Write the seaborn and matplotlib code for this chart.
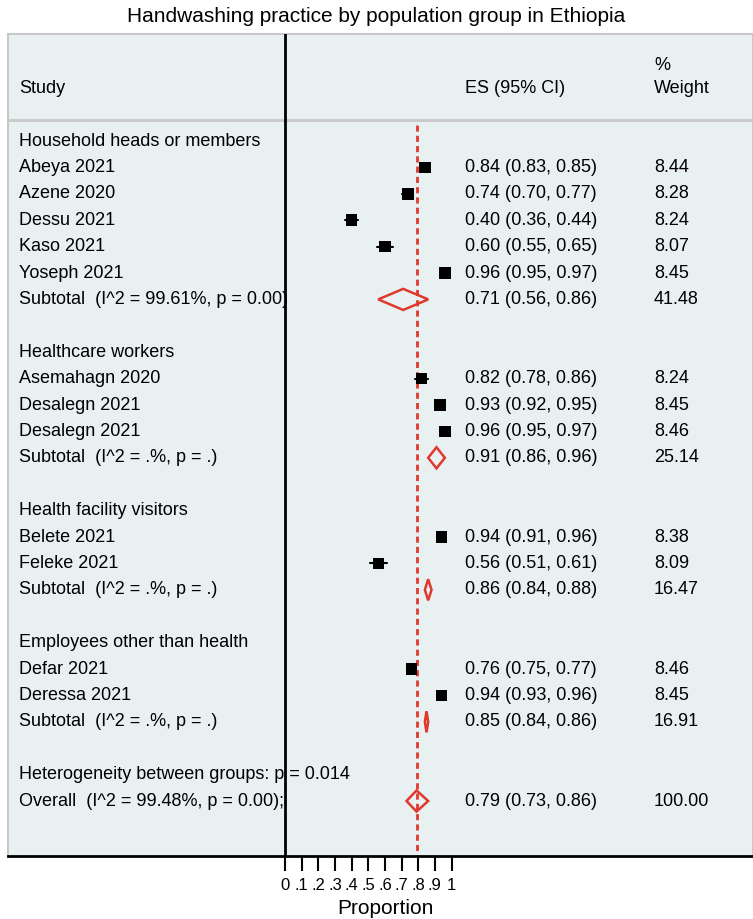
import numpy as np
import pandas as pd
import matplotlib.pyplot as plt
from matplotlib.patches import Polygon
import seaborn as sns

# Study rows: label, estimate, lower, upper, weight
studies = ["Abeya 2021", "Azene 2020", "Dessu 2021", "Kaso 2021", "Yoseph 2021",
           "Asemahagn 2020", "Desalegn 2021", "Desalegn 2021",
           "Belete 2021", "Feleke 2021",
           "Defar 2021", "Deressa 2021"]
es = [0.84, 0.74, 0.40, 0.60, 0.96, 0.82, 0.93, 0.96, 0.94, 0.56, 0.76, 0.94]
lo = [0.83, 0.70, 0.36, 0.55, 0.95, 0.78, 0.92, 0.95, 0.91, 0.51, 0.75, 0.93]
hi = [0.85, 0.77, 0.44, 0.65, 0.97, 0.86, 0.95, 0.97, 0.96, 0.61, 0.77, 0.96]
weight = [8.44, 8.28, 8.24, 8.07, 8.45, 8.24, 8.45, 8.46, 8.38, 8.09, 8.46, 8.45]
study_group = [0, 0, 0, 0, 0, 1, 1, 1, 2, 2, 3, 3]

groups = ["Household heads or members", "Healthcare workers",
          "Health facility visitors", "Employees other than health"]
sub_label = ["Subtotal  (I^2 = 99.61%, p = 0.00)", "Subtotal  (I^2 = .%, p = .)",
             "Subtotal  (I^2 = .%, p = .)", "Subtotal  (I^2 = .%, p = .)"]
sub_es = [0.71, 0.91, 0.86, 0.85]
sub_lo = [0.56, 0.86, 0.84, 0.84]
sub_hi = [0.86, 0.96, 0.88, 0.86]
sub_w = [41.48, 25.14, 16.47, 16.91]

overall = (0.79, 0.73, 0.86, 100.00)
overall_label = "Overall  (I^2 = 99.48%, p = 0.00);"
het_label = "Heterogeneity between groups: p = 0.014"

xticks = [0, .1, .2, .3, .4, .5, .6, .7, .8, .9, 1]
xticklabels = ["0", ".1", ".2", ".3", ".4", ".5", ".6", ".7", ".8", ".9", "1"]

RED = "#e0382c"
BG = "#e8f0f2"

# Build row layout
rows = []
r = 0
for g in range(len(groups)):
    rows.append(("head", groups[g], r)); r += 1
    for i, grp in enumerate(study_group):
        if grp == g:
            rows.append(("study", i, r)); r += 1
    rows.append(("sub", g, r)); r += 2
rows.append(("het", het_label, r)); r += 1
rows.append(("overall", None, r))

sns.set_style("white")
plt.rcParams['font.family'] = ['Liberation Sans', 'DejaVu Sans']
plt.rcParams['text.color'] = 'black'
plt.rcParams['xtick.color'] = 'black'
plt.rcParams['xtick.labelcolor'] = 'black'
fig = plt.figure(figsize=(7.53, 9.19), dpi=100)

W, H = 753, 919
x0_px, x1_px = 285, 451.5
px_per_unit = x1_px - x0_px
left_px, right_px, top_px, bot_px = 8, 753, 34, 856
ax = fig.add_axes([left_px / W, 1 - bot_px / H, (right_px - left_px) / W, (bot_px - top_px) / H])
ax.set_facecolor(BG)
ax.set_xlim((left_px - x0_px) / px_per_unit, (right_px - x0_px) / px_per_unit)
row0_px, pitch = 141, 26.4
ax.set_ylim((bot_px - row0_px) / pitch, (top_px - row0_px) / pitch)

def xd(px):
    return (px - x0_px) / px_per_unit

fs = 13
x_study, x_es, x_w = xd(19), xd(465), xd(654)

# header
ax.text(x_study, -2.0, "Study", fontsize=fs, va="center")
ax.text(x_es, -2.0, "ES (95% CI)", fontsize=fs, va="center")
ax.text(x_w, -2.0, "Weight", fontsize=fs, va="center")
ax.text(x_w, -2.85, "%", fontsize=fs, va="center")
ax.axhline(-0.8, color="#c8c8c8", lw=2)

# reference lines
ax.axvline(0, color="black", lw=2, zorder=6)
ax.plot([overall[0]] * 2, [-0.6, 27.2], color=RED, lw=2, ls=(0, (2.2, 1.5)), zorder=2)

pts = []
for kind, val, y in rows:
    if kind == "head" or kind == "het":
        ax.text(x_study, y, val, fontsize=fs, va="center")
    elif kind == "study":
        i = val
        ax.text(x_study, y, studies[i], fontsize=fs, va="center")
        ax.plot([lo[i], hi[i]], [y, y], color="black", lw=1.5, zorder=4)
        pts.append({"es": es[i], "row": y, "w": weight[i]})
        ax.text(x_es, y, f"{es[i]:.2f} ({lo[i]:.2f}, {hi[i]:.2f})", fontsize=fs, va="center")
        ax.text(x_w, y, f"{weight[i]:.2f}", fontsize=fs, va="center")
    elif kind == "sub":
        g = val
        ax.text(x_study, y, sub_label[g], fontsize=fs, va="center")
        d = Polygon([[sub_lo[g], y], [sub_es[g], y - 0.4], [sub_hi[g], y], [sub_es[g], y + 0.4]],
                    closed=True, fill=False, edgecolor=RED, lw=1.8, zorder=4)
        ax.add_patch(d)
        ax.text(x_es, y, f"{sub_es[g]:.2f} ({sub_lo[g]:.2f}, {sub_hi[g]:.2f})", fontsize=fs, va="center")
        ax.text(x_w, y, f"{sub_w[g]:.2f}", fontsize=fs, va="center")
    elif kind == "overall":
        e, l, h, w = overall
        ax.text(x_study, y, overall_label, fontsize=fs, va="center")
        d = Polygon([[l, y], [e, y - 0.4], [h, y], [e, y + 0.4]],
                    closed=True, fill=False, edgecolor=RED, lw=1.8, zorder=4)
        ax.add_patch(d)
        ax.text(x_es, y, f"{e:.2f} ({l:.2f}, {h:.2f})", fontsize=fs, va="center")
        ax.text(x_w, y, f"{w:.2f}", fontsize=fs, va="center")

df = pd.DataFrame(pts)
sns.scatterplot(data=df, x="es", y="row", size="w", sizes=(68, 72), marker="s",
                color="black", edgecolor="black", linewidth=0, legend=False, ax=ax, zorder=5)

# axes styling
for s in ["top", "left", "right"]:
    ax.spines[s].set_color("#c8c8c8")
    ax.spines[s].set_linewidth(1.5)
ax.spines["bottom"].set_color("black")
ax.spines["bottom"].set_linewidth(2)
ax.set_yticks([])
ax.set_xticks(xticks)
ax.set_xticklabels(xticklabels, fontsize=12)
ax.tick_params(axis="x", direction="out", length=11, width=1.5, color="black", pad=5, bottom=True)
ax.set_xlabel("")
ax.set_ylabel("")
fig.text(385 / W, 1 - 908 / H, "Proportion", fontsize=15, ha="center", va="center")
fig.text(W / 2 / W, 1 - 17 / H, "Handwashing practice by population group in Ethiopia",
         fontsize=15, ha="center", va="center")

fig.savefig("out.png", dpi=100)
